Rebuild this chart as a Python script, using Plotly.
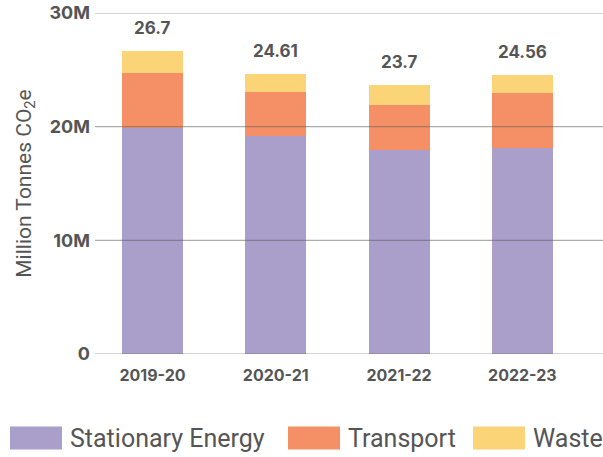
import plotly.graph_objects as go

years = ["2019-20", "2020-21", "2021-22", "2022-23"]
series_names = ["Stationary Energy", "Transport", "Waste"]
stationary = [19.9, 19.2, 17.95, 18.13]
transport = [4.8, 3.85, 4.0, 4.8]
waste = [2.0, 1.56, 1.75, 1.63]
totals = ["26.7", "24.61", "23.7", "24.56"]
colors = ["#AA9ECB", "#F59066", "#FBD478"]
tick_vals = [0, 10, 20, 30]
tick_text = ["0", "10M", "20M", "30M"]

values = [stationary, transport, waste]

fig = go.Figure()
for name, vals, col in zip(series_names, values, colors):
    fig.add_trace(go.Bar(x=years, y=vals, name=name, marker=dict(color=col, line=dict(width=0)),
                         width=0.495, showlegend=False, hoverinfo="skip"))

LAB = "#555555"
stack_tops = [a + b + c for a, b, c in zip(stationary, transport, waste)]
for yr, top, t in zip(years, stack_tops, totals):
    fig.add_annotation(x=yr, y=top, text=t, showarrow=False, yanchor="middle",
                       yshift=23, font=dict(family="Inter", size=17, color=LAB, weight="bold"))

# gridlines drawn above bars
for v in tick_vals:
    fig.add_shape(type="line", xref="paper", yref="y", x0=0, x1=1, y0=v, y1=v,
                  line=dict(color="rgba(90,90,90,0.5)", width=1.2), layer="above")

# custom legend
L = 95.0
W = 603 - L
def px(x):
    return (x - L) / W
T = 13.0
H = 457 - 103 - T
def py(y):
    return 1 - (y - T) / H

sw_x = [10, 288, 473]
for name, col, x0 in zip(series_names, colors, sw_x):
    fig.add_shape(type="rect", xref="paper", yref="paper", x0=px(x0), x1=px(x0 + 52),
                  y0=py(449.5), y1=py(426.5), fillcolor=col, line=dict(width=0))
    fig.add_annotation(xref="paper", yref="paper", x=px(x0 + 58), y=py(438.5), text=name,
                       showarrow=False, xanchor="left", yanchor="middle",
                       font=dict(family="Roboto", size=25, color=LAB))

fig.update_layout(
    barmode="stack",
    width=603, height=457,
    margin=dict(l=L, r=0, t=T, b=103, autoexpand=False),
    plot_bgcolor="white", paper_bgcolor="white",
    xaxis=dict(range=[-0.466, 3.654], showgrid=False, zeroline=False, showline=False,
               ticks="", ticklabelstandoff=10,
               tickfont=dict(family="Inter", size=16, color=LAB, weight="bold"), fixedrange=True),
    yaxis=dict(range=[0, 30], tickvals=tick_vals, ticktext=tick_text, showgrid=False,
               zeroline=False, showline=False, ticks="",
               tickfont=dict(family="Inter", size=18, color=LAB, weight="bold"), ticklabelstandoff=4,
               title=dict(text="Million Tonnes CO<sub>2</sub>e", standoff=12,
                          font=dict(family="Roboto", size=21, color=LAB))),
)

fig.write_html("out.html", config={"displayModeBar": False},
               post_script="document.body.style.margin='0';document.body.style.overflow='hidden';")
